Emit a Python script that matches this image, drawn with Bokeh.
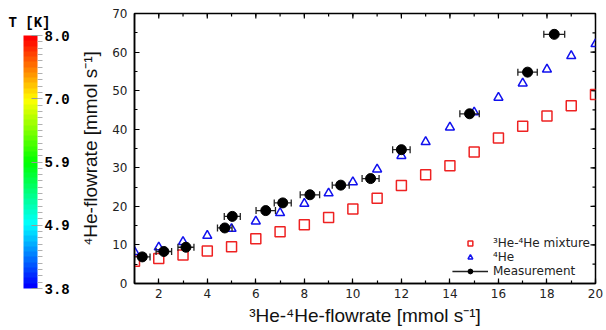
import math
import colorsys
from bokeh.plotting import figure
from bokeh.layouts import row
from bokeh.models import (ColumnDataSource, Range1d, FixedTicker, ColorBar,
                          LinearColorMapper, Legend, LegendItem, Label)
from bokeh.embed import file_html
from bokeh.resources import INLINE

# ---- data ----
mix_x = list(range(1, 21))
mix_y = [5.75, 6.45, 7.4, 8.4, 9.55, 11.6, 13.4, 15.2, 17.1, 19.3,
         22.1, 25.4, 28.2, 30.5, 34.1, 37.7, 40.8, 43.4, 46.1, 49.0]
he4_x = list(range(1, 21))
he4_y = [8.2, 9.4, 10.8, 12.4, 14.2, 16.1, 18.3, 20.7, 23.4, 26.3,
         29.6, 33.1, 36.7, 40.5, 44.4, 48.2, 51.9, 55.5, 59.0, 62.1]
meas_x = [1.32, 2.21, 3.12, 4.72, 5.03, 6.41, 7.11, 8.23, 9.50, 10.73, 12.0, 14.81, 17.2, 18.3]
meas_y = [6.9, 8.3, 9.4, 14.4, 17.4, 18.9, 20.9, 23.0, 25.5, 27.2, 34.7, 44.0, 54.8, 64.6]
meas_xerr = [0.32, 0.32, 0.33, 0.30, 0.33, 0.40, 0.35, 0.40, 0.35, 0.35, 0.36, 0.40, 0.40, 0.43]

x_lo, x_hi = 1, 20
y_lo, y_hi = 0, 70
x_ticks = [2, 4, 6, 8, 10, 12, 14, 16, 18, 20]
x_minor = list(range(1, 21))
y_ticks = [0, 10, 20, 30, 40, 50, 60, 70]
y_minor = [0, 5, 10, 15, 20, 25, 30, 35, 40, 45, 50, 55, 60, 65, 70]

cb_low, cb_high = 3.8, 8.0
cb_ticks = [3.8, 4.85, 5.9, 6.95, 8.0]
cb_labels = ["3.8", "4.9", "5.9", "7.0", "8.0"]
cb_minor = [cb_low + i * (cb_high - cb_low) / 40 for i in range(41)]
cb_title = "T [K]"

labels = ["³He-⁴He mixture", "⁴He", "Measurement"]
x_label = "³He-⁴He-flowrate [mmol s⁻¹]"
y_label = "⁴He-flowrate [mmol s⁻¹]"

# rainbow palette blue -> red
palette = []
n = 48
for i in range(n):
    h = (240.0 * (1 - i / (n - 1))) / 360.0
    r, g, b = colorsys.hsv_to_rgb(h, 1, 1)
    palette.append("#%02x%02x%02x" % (int(r * 255), int(g * 255), int(b * 255)))

FONT = "DejaVu Sans"
LFONT = "Liberation Sans"
MONO = "Liberation Mono"
H = 328
CBW = 76
MAIN_W = 528

# ---------------- colour bar panel ----------------
cbf = figure(width=CBW, height=H, x_range=Range1d(0, 1), y_range=Range1d(0, 1),
             x_axis_location=None, y_axis_location=None, output_backend="svg",
             toolbar_location=None, min_border_left=0, min_border_right=0,
             min_border_top=0, min_border_bottom=0, outline_line_color=None)
cbf.xgrid.visible = False
cbf.ygrid.visible = False

mapper = LinearColorMapper(palette=palette, low=cb_low, high=cb_high)
cb = ColorBar(color_mapper=mapper,
              ticker=FixedTicker(ticks=cb_ticks, minor_ticks=cb_minor),
              major_label_overrides={t: s for t, s in zip(cb_ticks, cb_labels)},
              width=14, height=253, location=(23, -5),
              major_label_text_font=MONO, major_label_text_font_style="bold",
              major_label_text_font_size="14px", major_label_text_color="black",
              major_tick_line_color="#999999", major_tick_in=6, major_tick_out=4,
              minor_tick_line_color="#b0b0b0", minor_tick_out=5, minor_tick_in=0,
              label_standoff=2, bar_line_color=None, border_line_color=None,
              background_fill_color=None, padding=0, margin=0)
cbf.add_layout(cb, "center")
cbf.add_layout(Label(x=8, y=261, x_units="screen", y_units="screen", text=cb_title,
                     text_font=MONO, text_font_style="bold", text_font_size="14px",
                     text_color="black", text_baseline="alphabetic", text_align="left"))

# ---------------- main plot ----------------
p = figure(width=MAIN_W, height=H, x_range=Range1d(x_lo, x_hi), y_range=Range1d(y_lo, y_hi),
           output_backend="svg", toolbar_location=None,
           min_border_right=9, min_border_top=13, min_border_bottom=44, min_border_left=58)
p.xgrid.visible = False
p.ygrid.visible = False
p.outline_line_color = "black"
p.outline_line_width = 1.5

for ax, ticks, minor in ((p.xaxis[0], x_ticks, x_minor), (p.yaxis[0], y_ticks, y_minor)):
    ax.ticker = FixedTicker(ticks=ticks, minor_ticks=minor)
    ax.major_tick_in = 5
    ax.major_tick_out = 0
    ax.minor_tick_in = 3
    ax.minor_tick_out = 0
    ax.axis_line_color = "black"
    ax.axis_line_width = 1.5
    ax.major_tick_line_width = 1.2
    ax.minor_tick_line_width = 1.2
    ax.major_label_text_font = FONT
    ax.major_label_text_font_size = "12px"
    ax.major_label_text_color = "#222222"
    ax.axis_label_text_font = LFONT
    ax.axis_label_text_font_size = "19px"
    ax.axis_label_text_font_style = "normal"
    ax.axis_label_text_color = "#111111"

p.xaxis[0].axis_label = x_label
p.yaxis[0].axis_label = y_label
p.xaxis[0].major_label_standoff = 5
p.xaxis[0].axis_label_standoff = 4
p.yaxis[0].major_label_standoff = 7
p.yaxis[0].axis_label_standoff = 8

# mirrored inward ticks on the top and right frame edges
p.ray(x=x_minor, y=[y_hi] * len(x_minor), length=3, angle=-math.pi / 2,
      length_units="screen", line_color="black", line_width=1.2)
p.ray(x=x_ticks, y=[y_hi] * len(x_ticks), length=5, angle=-math.pi / 2,
      length_units="screen", line_color="black", line_width=1.2)
p.ray(x=[x_hi] * len(y_minor), y=y_minor, length=3, angle=math.pi,
      length_units="screen", line_color="black", line_width=1.2)
p.ray(x=[x_hi] * len(y_ticks), y=y_ticks, length=5, angle=math.pi,
      length_units="screen", line_color="black", line_width=1.2)

src_mix = ColumnDataSource(dict(x=mix_x, y=mix_y))
src_he4 = ColumnDataSource(dict(x=he4_x, y=he4_y))
src_meas = ColumnDataSource(dict(
    x=meas_x, y=meas_y,
    x0=[a - e for a, e in zip(meas_x, meas_xerr)],
    x1=[a + e for a, e in zip(meas_x, meas_xerr)]))

r_mix = p.scatter("x", "y", source=src_mix, marker="square", size=10,
                  fill_color=None, line_color="#ee2222", line_width=1.5)
r_he4 = p.scatter("x", "y", source=src_he4, marker="triangle", size=9,
                  fill_color=None, line_color="#1111ee", line_width=1.5)
r_err = p.segment("x0", "y", "x1", "y", source=src_meas, line_color="#222222", line_width=1.3)
p.scatter("x0", "y", source=src_meas, marker="dash", angle=math.pi / 2, size=7,
          line_color="#222222", line_width=1.3)
p.scatter("x1", "y", source=src_meas, marker="dash", angle=math.pi / 2, size=7,
          line_color="#222222", line_width=1.3)
r_meas = p.scatter("x", "y", source=src_meas, marker="circle", size=10,
                   fill_color="black", line_color="black")

legend = Legend(items=[LegendItem(label=labels[0], renderers=[r_mix]),
                       LegendItem(label=labels[1], renderers=[r_he4]),
                       LegendItem(label=labels[2], renderers=[r_err, r_meas])],
                location="bottom_right", background_fill_alpha=0, border_line_color=None,
                glyph_width=36, glyph_height=12, label_height=12, spacing=0,
                label_text_font=FONT, label_text_font_size="12px",
                label_text_line_height=1.0,
                label_text_color="#222222", padding=0, margin=5)
p.add_layout(legend)

layout = row(cbf, p, spacing=0)
open("out.html", "w").write(file_html(layout, INLINE))
